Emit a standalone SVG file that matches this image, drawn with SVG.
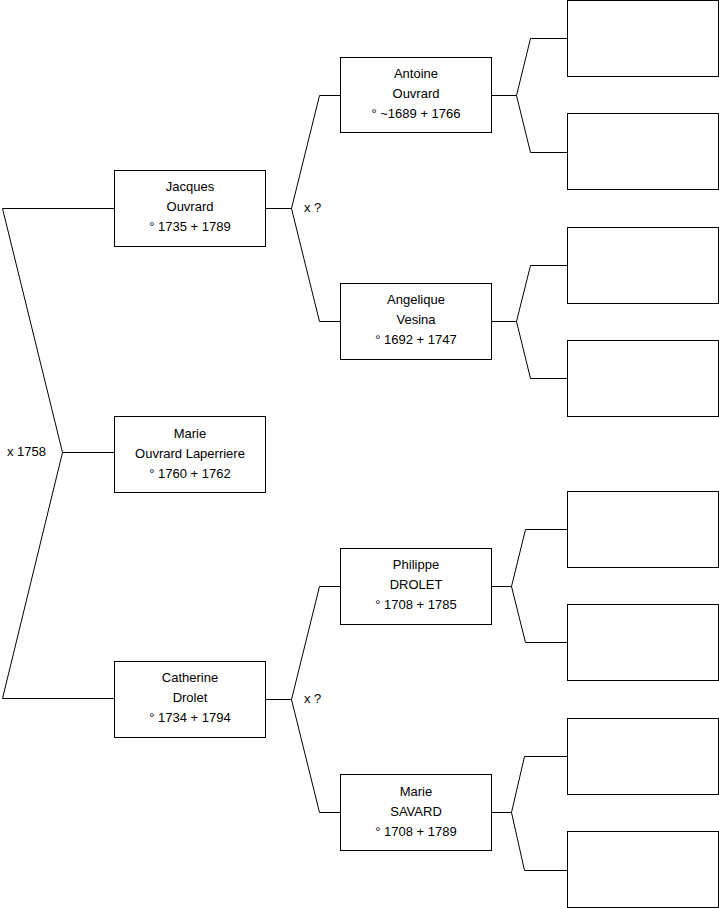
<svg xmlns="http://www.w3.org/2000/svg" width="719" height="908" viewBox="0 0 719 908">
<style>
rect{fill:#fff;stroke:#000;stroke-width:1}
.c path{fill:none;stroke:#000;stroke-width:1}
text{font-family:"Liberation Sans",Arial,sans-serif;font-size:13px;fill:#000}
.n text{text-anchor:middle}
</style>
<rect x="0" y="0" width="719" height="908" style="stroke:none"/>
<g class="c" id="connectors">
<path d="M114,208.5 H2.5 L62.5,452.5 L2.5,698.5 H114 M62.5,452.5 H114"/>
<path d="M265,208.5 H291.5 M341,95.5 H319.5 L291.5,208.5 L319.5,321.5 H341"/>
<path d="M265,699.5 H291.5 M341,586.5 H319.5 L291.5,699.5 L319.5,812.5 H341"/>
<path d="M492,95.5 H516.5 M567,38.5 H530.5 L516.5,95.5 L530.5,152.5 H567"/>
<path d="M492,321.5 H516.5 M567,265.5 H530.5 L516.5,321.5 L530.5,378.5 H567"/>
<path d="M492,586.5 H511.5 M567,529.5 H525.5 L511.5,586.5 L525.5,642.5 H567"/>
<path d="M492,812.5 H511.5 M567,756.5 H524.5 L511.5,812.5 L524.5,870.5 H567"/>
</g>
<g id="labels">
<text x="7" y="456">x 1758</text>
<text x="304" y="212">x ?</text>
<text x="304" y="703">x ?</text>
</g>
<g class="n" id="jacques"><rect x="114.5" y="170.5" width="151" height="76"/><text x="190" y="191">Jacques</text><text x="190" y="211">Ouvrard</text><text x="190" y="231">° 1735 + 1789</text></g>
<g class="n" id="marie"><rect x="114.5" y="416.5" width="151" height="76"/><text x="190" y="438">Marie</text><text x="190" y="458">Ouvrard Laperriere</text><text x="190" y="478">° 1760 + 1762</text></g>
<g class="n" id="catherine"><rect x="114.5" y="661.5" width="151" height="76"/><text x="190" y="682">Catherine</text><text x="190" y="702">Drolet</text><text x="190" y="722">° 1734 + 1794</text></g>
<g class="n" id="antoine"><rect x="340.5" y="57.5" width="151" height="75"/><text x="416" y="78">Antoine</text><text x="416" y="98">Ouvrard</text><text x="416" y="118">° ~1689 + 1766</text></g>
<g class="n" id="angelique"><rect x="340.5" y="283.5" width="151" height="76"/><text x="416" y="304">Angelique</text><text x="416" y="324">Vesina</text><text x="416" y="344">° 1692 + 1747</text></g>
<g class="n" id="philippe"><rect x="340.5" y="548.5" width="151" height="76"/><text x="416" y="569">Philippe</text><text x="416" y="589">DROLET</text><text x="416" y="609">° 1708 + 1785</text></g>
<g class="n" id="savard"><rect x="340.5" y="774.5" width="151" height="76"/><text x="416" y="796">Marie</text><text x="416" y="816">SAVARD</text><text x="416" y="836">° 1708 + 1789</text></g>
<g class="n" id="e1"><rect x="567.5" y="0.5" width="151" height="76"/></g>
<g class="n" id="e2"><rect x="567.5" y="113.5" width="151" height="76"/></g>
<g class="n" id="e3"><rect x="567.5" y="227.5" width="151" height="76"/></g>
<g class="n" id="e4"><rect x="567.5" y="340.5" width="151" height="76"/></g>
<g class="n" id="e5"><rect x="567.5" y="491.5" width="151" height="76"/></g>
<g class="n" id="e6"><rect x="567.5" y="604.5" width="151" height="76"/></g>
<g class="n" id="e7"><rect x="567.5" y="718.5" width="151" height="76"/></g>
<g class="n" id="e8"><rect x="567.5" y="831.5" width="151" height="76"/></g>
</svg>
